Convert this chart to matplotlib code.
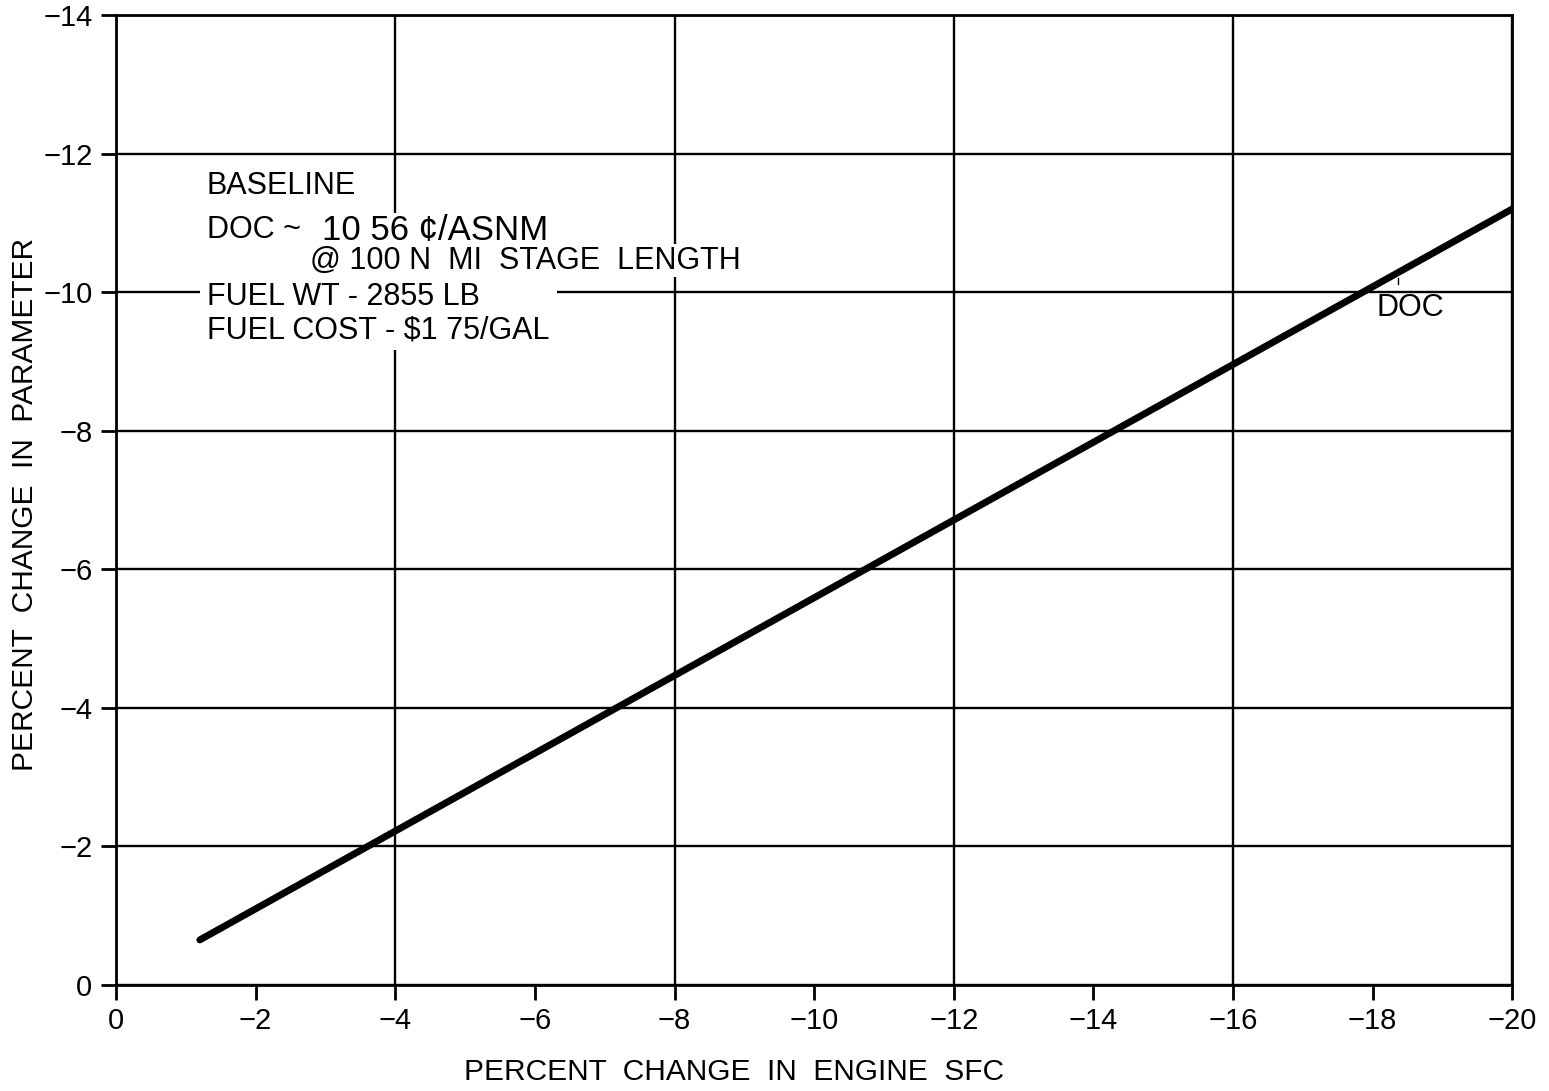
import matplotlib
matplotlib.use('Agg')
import matplotlib.pyplot as plt
from matplotlib.patches import Rectangle
import numpy as np

plt.rcParams['font.family'] = ['Liberation Sans', 'DejaVu Sans']

# DOC sensitivity to engine SFC (both in percent change)
sfc_change = [-1.2, -20.0]
doc_change = [-0.65, -11.2]

x_ticks = np.arange(0, -21, -2)
y_ticks = np.arange(0, -15, -2)
x_grid = np.arange(0, -21, -4)

fig = plt.figure(figsize=(15.49, 10.91), dpi=100)
ax = fig.add_axes([0.0749, 0.0972, 0.9014, 0.8891])

ax.set_xlim(0, -20)
ax.set_ylim(0, -14)

for xv in x_grid:
    ax.axvline(xv, color='black', lw=1.7, zorder=1)
for yv in y_ticks:
    ax.axhline(yv, color='black', lw=1.7, zorder=1)

ax.plot(sfc_change, doc_change, color='black', lw=5, solid_capstyle='round', zorder=3)

ax.set_xticks(x_ticks)
ax.set_yticks(y_ticks)
ax.set_xticklabels(['0'] + ['\u2212' + str(abs(v)) for v in x_ticks[1:]])
ax.set_yticklabels(['0'] + ['\u2212' + str(abs(v)) for v in y_ticks[1:]])
ax.tick_params(axis='both', direction='out', length=11, width=2, labelsize=21)
ax.tick_params(axis='x', pad=5)
ax.tick_params(axis='y', pad=6)
for s in ax.spines.values():
    s.set_linewidth(2)

fig.text(734 / 1549, 1 - 1072 / 1091, 'PERCENT  CHANGE  IN  ENGINE  SFC', fontsize=21.5,
         ha='center', va='center')
fig.text(25 / 1549, 1 - 504 / 1091, 'PERCENT  CHANGE  IN  PARAMETER', fontsize=21.5,
         ha='center', va='center', rotation=90)

# blank out the grid behind the baseline notes
ax.add_patch(Rectangle((-1.2, -11.14), -5.12, 1.98, facecolor='white', edgecolor='none', zorder=2))

box = dict(facecolor='white', edgecolor='none', pad=1)
ax.text(-1.30, -11.53, 'BASELINE', fontsize=22, va='center', ha='left', zorder=4)
ax.text(-1.30, -10.89, 'DOC ~', fontsize=22, va='center', ha='left', zorder=4)
ax.text(-2.95, -10.89, '10 56 \u00a2/ASNM', fontsize=25, va='center', ha='left', zorder=4)
ax.text(-2.78, -10.45, '@ 100 N  MI  STAGE  LENGTH', fontsize=22, va='center', ha='left',
        bbox=box, zorder=4)
ax.text(-1.30, -9.93, 'FUEL WT - 2855 LB', fontsize=22, va='center', ha='left', zorder=4)
ax.text(-1.30, -9.44, 'FUEL COST - $1 75/GAL', fontsize=22, va='center', ha='left', zorder=4)

# curve label with a short leader
ax.text(-18.54, -9.77, 'DOC', fontsize=22, va='center', ha='center', zorder=4)
ax.plot([-18.37, -18.37], [-10.12, -10.2], color='black', lw=1, zorder=4)

fig.savefig('out.png', dpi=100)
